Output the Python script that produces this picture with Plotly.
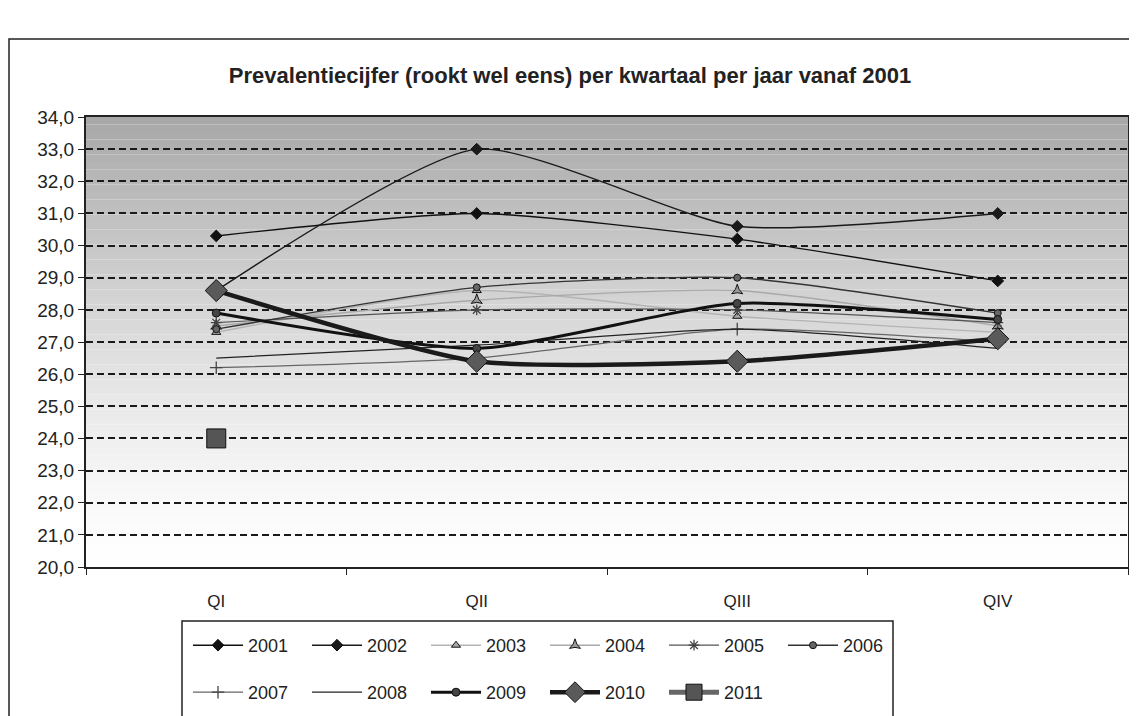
import plotly.graph_objects as go

quarters = ["QI", "QII", "QIII", "QIV"]
years = ["2001", "2002", "2003", "2004", "2005", "2006", "2007", "2008", "2009", "2010", "2011"]
v2001 = [30.3, 31.0, 30.2, 28.9]
v2002 = [28.6, 33.0, 30.6, 31.0]
v2003 = [27.3, 28.6, 27.8, 27.3]
v2004 = [27.5, 28.3, 28.6, 27.5]
v2005 = [27.6, 28.0, 28.0, 27.6]
v2006 = [27.4, 28.7, 29.0, 27.9]
v2007 = [26.2, 26.5, 27.4, 27.0]
v2008 = [26.5, 26.9, 27.4, 26.8]
v2009 = [27.9, 26.8, 28.2, 27.7]
v2010 = [28.6, 26.4, 26.4, 27.1]
v2011 = [24.0, None, None, None]
series = [v2001, v2002, v2003, v2004, v2005, v2006, v2007, v2008, v2009, v2010, v2011]
y_ticks = [20, 21, 22, 23, 24, 25, 26, 27, 28, 29, 30, 31, 32, 33, 34]

styles = {
    "2001": dict(color="#111111", width=1.4, symbol="diamond", size=9, mcolor="#111111"),
    "2002": dict(color="#1a1a1a", width=1.4, symbol="diamond", size=9, mcolor="#1a1a1a"),
    "2003": dict(color="#b4b4b4", width=1.4, symbol="triangle-up", size=8, mcolor="#a8a8a8"),
    "2004": dict(color="#a9a9a9", width=1.4, symbol="star-triangle-up", size=8, mcolor="#9a9a9a"),
    "2005": dict(color="#555555", width=1.2, symbol="asterisk-open", size=9, mcolor="#444444"),
    "2006": dict(color="#333333", width=1.4, symbol="circle", size=7, mcolor="#666666"),
    "2007": dict(color="#666666", width=1.2, symbol="cross-thin-open", size=9, mcolor="#444444"),
    "2008": dict(color="#222222", width=1.2, symbol=None, size=0, mcolor="#222222"),
    "2009": dict(color="#111111", width=3, symbol="circle", size=8, mcolor="#444444"),
    "2010": dict(color="#1a1a1a", width=4.5, symbol="diamond", size=17, mcolor="#5a5a5a"),
    "2011": dict(color="#666666", width=5, symbol="square", size=19, mcolor="#555555"),
}

fig = go.Figure()
for i, (yr, vals) in enumerate(zip(years, series)):
    st = styles[yr]
    mode = "lines" if st["symbol"] is None else "lines+markers"
    marker = None
    if st["symbol"]:
        marker = dict(size=st["size"], color=st["mcolor"], symbol=st["symbol"],
                      line=dict(color="#111111", width=1))
        if "open" in st["symbol"]:
            marker["line"] = dict(color=st["mcolor"], width=1.3)
    fig.add_trace(go.Scatter(
        x=quarters, y=vals, name=yr, mode=mode,
        line=dict(color=st["color"], width=st["width"], shape="spline", smoothing=0.6),
        marker=marker,
        legend="legend" if i < 6 else "legend2",
    ))

# the page has an 8px body margin: convert reference pixel positions to figure pixels
OFF = 8
W, H = 1137, 716
L, R, T, B = 86 - OFF, 1128 - OFF, 117 - OFF, 567 - OFF
def px(X):
    return (X - OFF - L) / (R - L)
def py(Y):
    return (B - (Y - OFF)) / (B - T)

shapes = []
n = 60
for k in range(n):
    f0 = k / n
    f1 = (k + 1) / n
    t = (k + 0.5) / n  # 0 bottom -> 1 top
    g = int(round(255 - 88 * (t ** 1.35)))
    shapes.append(dict(type="rect", xref="paper", yref="paper", x0=0, x1=1, y0=f0, y1=f1,
                       fillcolor=f"rgb({g},{g},{g})", line=dict(width=0), layer="below"))
shapes.append(dict(type="rect", xref="paper", yref="paper", x0=px(9), x1=px(1170), y0=py(770), y1=py(39),
                   line=dict(color="#222222", width=1.5), fillcolor="rgba(0,0,0,0)", layer="above"))
shapes.append(dict(type="rect", xref="paper", yref="paper", x0=px(182), x1=px(893), y0=py(760), y1=py(621),
                   line=dict(color="#222222", width=1.5), fillcolor="rgba(0,0,0,0)", layer="above"))
fig.update_layout(shapes=shapes)

font_family = "Liberation Sans, Arial, sans-serif"
fig.update_layout(
    width=W, height=H,
    margin=dict(l=L, r=W - R, t=T, b=H - B, autoexpand=False),
    paper_bgcolor="white", plot_bgcolor="rgba(0,0,0,0)",
    separators=", ",
    font=dict(family=font_family, color="#222222"),
    title=dict(text="<b>Prevalentiecijfer (rookt wel eens) per kwartaal per jaar vanaf 2001</b>",
               x=(570 - OFF) / W, xref="container", xanchor="center",
               y=1 - (75 - OFF) / H, yref="container", yanchor="middle",
               font=dict(size=22, family=font_family, color="#222222")),
    legend=dict(orientation="h", x=px(188), xanchor="left", y=py(627), yanchor="top",
                bgcolor="rgba(0,0,0,0)", borderwidth=0, font=dict(size=18, family=font_family),
                itemwidth=50, entrywidth=54, traceorder="normal"),
    legend2=dict(orientation="h", x=px(188), xanchor="left", y=py(674), yanchor="top",
                 bgcolor="rgba(0,0,0,0)", borderwidth=0, font=dict(size=18, family=font_family),
                 itemwidth=50, entrywidth=54, traceorder="normal"),
    showlegend=True,
)
fig.update_yaxes(range=[20, 34], tickvals=y_ticks, tickformat=".1f",
                 showgrid=True, gridcolor="#1a1a1a", gridwidth=1.6, griddash="7px,4px",
                 showline=True, linecolor="#222222", linewidth=2, mirror=True,
                 ticks="outside", ticklen=6, tickcolor="#222222",
                 tickfont=dict(size=19, family=font_family, color="#222222"),
                 zeroline=False, fixedrange=True)
fig.update_xaxes(type="category", categoryorder="array", categoryarray=quarters,
                 range=[-0.5, 3.5], tickson="boundaries", ticks="outside", ticklen=6,
                 tickcolor="#222222", showgrid=False,
                 showline=True, linecolor="#222222", linewidth=2, mirror=True,
                 ticklabelstandoff=18,
                 tickfont=dict(size=17, family=font_family, color="#222222"))

fig.write_html("out.html")
